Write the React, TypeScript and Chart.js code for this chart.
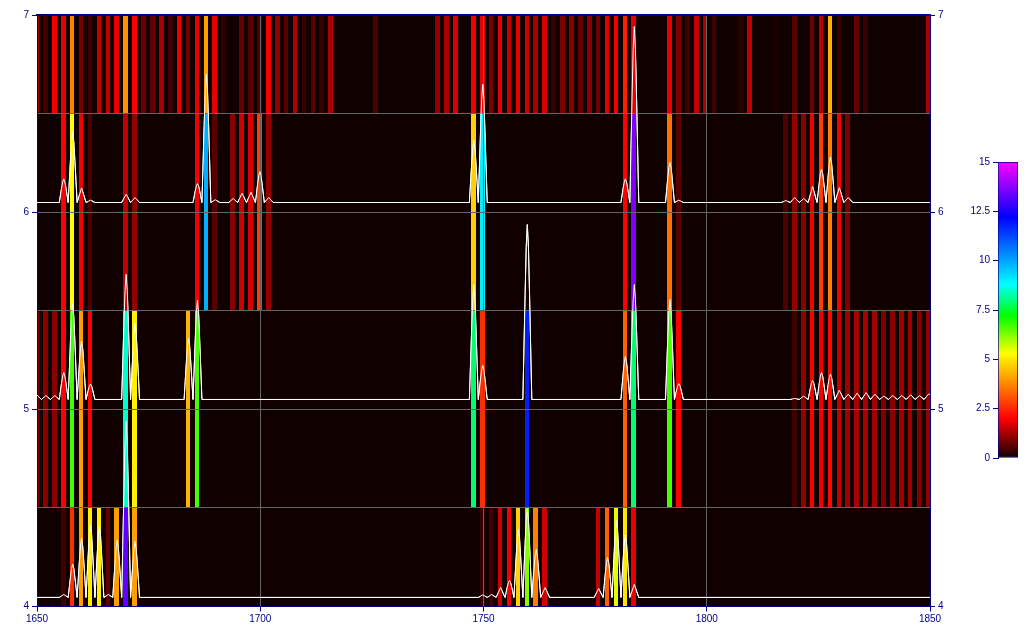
import React, { useEffect, useRef } from "react";
import { Chart, registerables } from "chart.js";

Chart.register(...registerables);

// Heat strips: column position and colour value per strip (empty columns are simply absent)
const row7X = [1650,1652,1654,1656,1658,1660,1662,1664,1666,1668,1670,1672,1674,1676,1678,1680,1682,1684,1686,1688,1690,1692,1696,1698,1700,1702,1704,1706,1708,1710,1712,1714,1716,1726,1740,1742,1744,1748,1750,1752,1754,1756,1758,1760,1762,1764,1766,1768,1770,1772,1774,1776,1778,1780,1782,1784,1792,1794,1796,1798,1800,1802,1808,1810,1816,1820,1824,1826,1828,1830,1834,1836,1850];
const row7Z = [1.3,0.4,1.9,1.8,3.7,0.9,0.4,1.5,1.5,1.8,3.9,2.0,0.8,0.7,1.3,0.4,1.8,0.8,1.8,4.1,1.8,0.25,0.7,0.6,0.5,1.9,1.1,0.6,1.3,0.3,0.6,0.3,1.3,0.5,1.1,1.3,1.7,1.9,1.8,0.9,1.8,1.5,1.8,1.6,1.3,1.7,0.3,0.9,1.0,0.7,1.0,0.8,1.8,1.9,2.4,1.8,1.8,0.9,0.4,1.5,1.3,0.4,0.2,1.5,0.1,0.6,0.8,1.4,4.3,0.3,0.7,0.3,1.3];

const row6X = [1656,1658,1660,1662,1670,1672,1686,1688,1690,1694,1696,1698,1700,1702,1748,1750,1782,1784,1792,1794,1818,1820,1822,1824,1826,1828,1830,1832];
const row6Z = [2.0,5.3,1.9,0.5,1.5,1.1,1.9,9.85,0.6,1.0,1.6,1.7,2.8,1.1,4.7,9.0,2.0,13.6,3.45,0.6,0.5,1.1,1.0,1.9,2.8,3.65,1.9,0.9];

const row5X = [1650,1652,1654,1656,1658,1660,1662,1670,1672,1684,1686,1748,1750,1760,1782,1784,1792,1794,1820,1822,1824,1826,1828,1830,1832,1834,1836,1838,1840,1842,1844,1846,1848,1850];
const row5Z = [0.9,1.0,1.0,2.0,6.7,4.05,2.0,8.5,5.1,4.3,6.7,7.9,2.6,11.8,3.25,7.9,6.7,2.0,0.4,1.1,2.0,1.9,2.1,1.5,1.2,1.3,1.3,1.2,0.9,1.0,1.2,1.2,1.0,1.1];

const row4X = [1656,1658,1660,1662,1664,1666,1668,1670,1672,1750,1752,1754,1756,1758,1760,1762,1764,1776,1778,1780,1782,1784];
const row4Z = [0.4,2.6,4.05,5.1,5.1,0.7,4.05,13.25,4.05,0.3,0.4,1.6,1.9,4.7,6.25,3.65,1.6,1.5,3.25,5.5,5.0,1.8];

// Strip extents on the y axis
const row7Span = [6.5, 7];
const row6Span = [5.5, 6.5];
const row5Span = [4.5, 5.5];
const row4Span = [4, 4.5];

// White traces: [x, height above the row's base level]
const line6Points = [
  [1650,0],[1655,0],[1655.25,.036],[1655.5,.072],[1655.75,.104],[1656,.12],[1656.25,.104],[1656.5,.072],[1656.75,.036],[1657,0],
  [1657.25,.107],[1657.5,.213],[1657.75,.309],[1658,.355],[1658.25,.309],[1658.5,.213],[1658.75,.107],[1659,0],[1660,.074],[1661,0],[1662,.012],[1663,0],
  [1669,0],[1670,.042],[1671,0],[1672,.025],[1673,0],
  [1685,0],[1685.25,.029],[1685.5,.058],[1685.75,.084],[1686,.096],[1686.25,.084],[1686.5,.058],[1686.75,.029],[1687,0],
  [1687.25,.195],[1687.5,.39],[1687.75,.566],[1688,.65],[1688.25,.566],[1688.5,.39],[1688.75,.195],[1689,0],[1690,.014],[1691,0],
  [1693,0],[1694,.02],[1695,0],[1696,.047],[1697,0],[1698,.052],[1699,0],[1699.25,.047],[1699.5,.094],[1699.75,.137],[1700,.157],[1700.25,.137],[1700.5,.094],[1700.75,.047],[1701,0],[1702,.025],[1703,0],
  [1747,0],[1747.25,.095],[1747.5,.19],[1747.75,.275],[1748,.316],[1748.25,.275],[1748.5,.19],[1748.75,.095],[1749,0],
  [1749.25,.18],[1749.5,.36],[1749.75,.522],[1750,.6],[1750.25,.522],[1750.5,.36],[1750.75,.18],[1751,0],
  [1781,0],[1781.25,.036],[1781.5,.072],[1781.75,.104],[1782,.12],[1782.25,.104],[1782.5,.072],[1782.75,.036],[1783,0],
  [1783.25,.268],[1783.5,.536],[1783.75,.777],[1784,.893],[1784.25,.777],[1784.5,.536],[1784.75,.268],[1785,0],
  [1791,0],[1791.25,.061],[1791.5,.122],[1791.75,.177],[1792,.203],[1792.25,.177],[1792.5,.122],[1792.75,.061],[1793,0],[1794,.012],[1795,0],
  [1817,0],[1818,.01],[1819,0],[1820,.025],[1821,0],[1822,.02],[1823,0],[1824,.081],[1825,0],
  [1825.25,.051],[1825.5,.101],[1825.75,.147],[1826,.169],[1826.25,.147],[1826.5,.101],[1826.75,.051],[1827,0],
  [1827.25,.069],[1827.5,.138],[1827.75,.2],[1828,.23],[1828.25,.2],[1828.5,.138],[1828.75,.069],[1829,0],[1830,.076],[1831,0],[1832,.025],[1833,0],[1852,0],
];

const line5Points = [
  [1650,.022],[1651,0],[1652,.02],[1653,0],[1654,.02],[1655,0],
  [1655.25,.041],[1655.5,.082],[1655.75,.119],[1656,.137],[1656.25,.119],[1656.5,.082],[1656.75,.041],[1657,0],
  [1657.25,.146],[1657.5,.292],[1657.75,.423],[1658,.486],[1658.25,.423],[1658.5,.292],[1658.75,.146],[1659,0],
  [1659.25,.089],[1659.5,.178],[1659.75,.258],[1660,.296],[1660.25,.258],[1660.5,.178],[1660.75,.089],[1661,0],
  [1661.25,.023],[1661.5,.047],[1661.75,.068],[1662,.078],[1662.25,.068],[1662.5,.047],[1662.75,.023],[1663,0],
  [1669,0],[1669.25,.19],[1669.5,.381],[1669.75,.552],[1670,.635],[1670.25,.552],[1670.5,.381],[1670.75,.19],[1671,0],
  [1671.25,.116],[1671.5,.231],[1671.75,.335],[1672,.385],[1672.25,.335],[1672.5,.231],[1672.75,.116],[1673,0],
  [1683,0],[1683.25,.093],[1683.5,.186],[1683.75,.27],[1684,.31],[1684.25,.27],[1684.5,.186],[1684.75,.093],[1685,0],
  [1685.25,.151],[1685.5,.302],[1685.75,.438],[1686,.503],[1686.25,.438],[1686.5,.302],[1686.75,.151],[1687,0],
  [1747,0],[1747.25,.175],[1747.5,.35],[1747.75,.507],[1748,.583],[1748.25,.507],[1748.5,.35],[1748.75,.175],[1749,0],
  [1749.25,.052],[1749.5,.103],[1749.75,.15],[1750,.172],[1750.25,.15],[1750.5,.103],[1750.75,.052],[1751,0],
  [1759,0],[1759.25,.266],[1759.5,.532],[1759.75,.772],[1760,.887],[1760.25,.772],[1760.5,.532],[1760.75,.266],[1761,0],
  [1781,0],[1781.25,.065],[1781.5,.131],[1781.75,.19],[1782,.218],[1782.25,.19],[1782.5,.131],[1782.75,.065],[1783,0],
  [1783.25,.175],[1783.5,.35],[1783.75,.507],[1784,.583],[1784.25,.507],[1784.5,.35],[1784.75,.175],[1785,0],
  [1791,0],[1791.25,.152],[1791.5,.304],[1791.75,.441],[1792,.507],[1792.25,.441],[1792.5,.304],[1792.75,.152],[1793,0],
  [1793.25,.024],[1793.5,.048],[1793.75,.07],[1794,.08],[1794.25,.07],[1794.5,.048],[1794.75,.024],[1795,0],
  [1819,0],[1820,.005],[1821,0],[1822,.017],[1823,0],
  [1823.25,.029],[1823.5,.058],[1823.75,.084],[1824,.096],[1824.25,.084],[1824.5,.058],[1824.75,.029],[1825,0],
  [1825.25,.041],[1825.5,.082],[1825.75,.119],[1826,.137],[1826.25,.119],[1826.5,.082],[1826.75,.041],[1827,0],
  [1827.25,.038],[1827.5,.077],[1827.75,.111],[1828,.128],[1828.25,.111],[1828.5,.077],[1828.75,.038],[1829,0],
  [1830,.047],[1831,0],[1832,.027],[1833,0],[1834,.032],[1835,0],[1836,.035],[1837,0],[1838,.027],[1839,0],[1840,.017],[1841,0],[1842,.02],[1843,0],[1844,.02],[1845,0],[1846,.024],[1847,0],[1848,.02],[1849,0],[1850,.027],[1852,.027],
];

const line4Points = [
  [1650,0],[1655,0],[1656,.015],[1657,0],
  [1657.25,.051],[1657.5,.101],[1657.75,.147],[1658,.169],[1658.25,.147],[1658.5,.101],[1658.75,.051],[1659,0],
  [1659.25,.09],[1659.5,.18],[1659.75,.261],[1660,.30],[1660.25,.261],[1660.5,.18],[1660.75,.09],[1661,0],
  [1661.25,.11],[1661.5,.219],[1661.75,.318],[1662,.365],[1662.25,.318],[1662.5,.219],[1662.75,.11],[1663,0],
  [1663.25,.108],[1663.5,.216],[1663.75,.313],[1664,.36],[1664.25,.313],[1664.5,.216],[1664.75,.108],[1665,0],[1666,.015],[1667,0],
  [1667.25,.087],[1667.5,.174],[1667.75,.252],[1668,.29],[1668.25,.252],[1668.5,.174],[1668.75,.087],[1669,0],
  [1669.25,.268],[1669.5,.536],[1669.75,.777],[1670,.893],[1670.25,.777],[1670.5,.536],[1670.75,.268],[1671,0],
  [1671.25,.086],[1671.5,.171],[1671.75,.248],[1672,.285],[1672.25,.248],[1672.5,.171],[1672.75,.086],[1673,0],
  [1749,0],[1750,.013],[1751,0],[1752,.015],[1753,0],[1754,.05],[1755,0],
  [1755.25,.026],[1755.5,.052],[1755.75,.075],[1756,.086],[1756.25,.075],[1756.5,.052],[1756.75,.026],[1757,0],
  [1757.25,.104],[1757.5,.207],[1757.75,.3],[1758,.345],[1758.25,.3],[1758.5,.207],[1758.75,.104],[1759,0],
  [1759.25,.135],[1759.5,.27],[1759.75,.392],[1760,.45],[1760.25,.392],[1760.5,.27],[1760.75,.135],[1761,0],
  [1761.25,.073],[1761.5,.146],[1761.75,.211],[1762,.243],[1762.25,.211],[1762.5,.146],[1762.75,.073],[1763,0],[1764,.05],[1765,0],
  [1775,0],[1776,.045],[1777,0],
  [1777.25,.061],[1777.5,.122],[1777.75,.177],[1778,.203],[1778.25,.177],[1778.5,.122],[1778.75,.061],[1779,0],
  [1779.25,.117],[1779.5,.234],[1779.75,.339],[1780,.39],[1780.25,.339],[1780.5,.234],[1780.75,.117],[1781,0],
  [1781.25,.095],[1781.5,.19],[1781.75,.275],[1782,.316],[1782.25,.275],[1782.5,.19],[1782.75,.095],[1783,0],[1784,.066],[1785,0],[1852,0],
];

const lineBase6 = 6.049;
const lineBase5 = 5.05;
const lineBase4 = 4.046;

// The picture's columns sit slightly closer together than the nominal 2-unit labels above,
// and the strips start half a pixel left of the trace positions.
const columnPitch = 0.99832;
const stripShift = -0.112;
const xOf = (x: number) => 1650 + (x - 1650) * columnPitch;

// Colour scale
const colorStops: [number, number, number, number][] = [
  [0, 16, 0, 0],
  [2, 255, 0, 0],
  [5.3, 255, 255, 0],
  [7.2, 0, 255, 0],
  [8.8, 0, 255, 255],
  [12.2, 0, 0, 255],
  [15, 255, 0, 255],
];

const NAVY = "#00008b";
const GRID = "#646464";
const BG = "#100000";
const FONT = { family: "'Liberation Sans', sans-serif", size: 10 };

function colorOf(z: number): string {
  for (let i = 1; i < colorStops.length; i++) {
    const a = colorStops[i - 1];
    const b = colorStops[i];
    if (z <= b[0]) {
      const t = (z - a[0]) / (b[0] - a[0]);
      const c = [1, 2, 3].map((k) => Math.round(a[k] + (b[k] - a[k]) * t));
      return `rgb(${c[0]},${c[1]},${c[2]})`;
    }
  }
  return "rgb(255,0,255)";
}

function heat(xs: number[], zs: number[], span: number[]) {
  return {
    type: "bar" as const,
    data: xs.map((x) => ({ x: xOf(x) + stripShift, y: span })),
    backgroundColor: zs.map(colorOf),
    borderWidth: 0,
    inflateAmount: 0,
    barPercentage: 0.52,
    categoryPercentage: 1,
    grouped: false,
    xAxisID: "x",
    yAxisID: "y",
  };
}

function trace(points: number[][], base: number) {
  return {
    type: "line" as const,
    data: points.map(([x, h]) => ({ x: xOf(x), y: base + h })),
    borderColor: "#ffffff",
    borderWidth: 1,
    pointRadius: 0,
    tension: 0,
    fill: false,
    xAxisID: "x",
    yAxisID: "y",
  };
}

const plotPlugin = {
  id: "plotPlugin",
  afterDatasetsUpdate(chart: any) {
    chart.data.datasets.forEach((d: any, i: number) => {
      if (d.type !== "bar") return;
      for (const el of chart.getDatasetMeta(i).data) {
        const l = Math.round(el.x - el.width / 2);
        const r = Math.round(el.x + el.width / 2);
        el.x = (l + r) / 2;
        el.width = r - l;
      }
    });
  },
  beforeDatasetsDraw(chart: any) {
    const { ctx, chartArea: a } = chart;
    ctx.save();
    ctx.fillStyle = BG;
    ctx.fillRect(a.left, a.top, a.right - a.left, a.bottom - a.top);
    ctx.restore();
  },
  afterDraw(chart: any) {
    const { ctx, chartArea: a } = chart;
    ctx.save();
    ctx.beginPath();
    ctx.rect(a.left, a.top, a.right - a.left, a.bottom - a.top);
    ctx.clip();
    chart.data.datasets.forEach((d: any, i: number) => {
      if (d.type === "line") chart.getDatasetMeta(i).controller.draw();
    });
    ctx.restore();
  },
};

const isEdge = (ctx: any) => ctx.tick && (ctx.tick.value === ctx.scale.min || ctx.tick.value === ctx.scale.max);
const yLabel = (v: any) => (Number.isInteger(v) ? String(v) : "");
const yTickColor = (ctx: any) => (ctx.tick && Number.isInteger(ctx.tick.value) ? NAVY : "transparent");

export default function App() {
  const mainRef = useRef<HTMLCanvasElement>(null);
  const barRef = useRef<HTMLCanvasElement>(null);

  useEffect(() => {
    const main = new Chart(mainRef.current as any, {
      type: "bar",
      data: {
        datasets: [
          heat(row7X, row7Z, row7Span),
          heat(row6X, row6Z, row6Span),
          heat(row5X, row5Z, row5Span),
          heat(row4X, row4Z, row4Span),
          trace(line6Points, lineBase6),
          trace(line5Points, lineBase5),
          trace(line4Points, lineBase4),
        ] as any,
      },
      options: {
        animation: false,
        responsive: false,
        devicePixelRatio: 1,
        layout: { padding: 0 },
        plugins: { legend: { display: false }, tooltip: { enabled: false } },
        scales: {
          x: {
            type: "linear",
            position: "bottom",
            min: 1650,
            max: 1850,
            offset: false,
            afterFit: (s: any) => { s.height = 33.5; },
            ticks: { stepSize: 50, color: NAVY, font: FONT, maxRotation: 0, autoSkip: false, padding: 2, callback: (v: any) => String(v) },
            grid: {
              offset: false, z: 1, lineWidth: 1, tickLength: 5, tickColor: NAVY,
              color: (c: any) => (isEdge(c) ? "transparent" : GRID),
            },
            border: { color: NAVY, width: 1, z: 2 },
          },
          xTop: {
            type: "linear",
            position: "top",
            min: 1650,
            max: 1850,
            afterFit: (s: any) => { s.height = 15; },
            ticks: { display: false },
            grid: { drawOnChartArea: false, drawTicks: false },
            border: { color: NAVY, width: 2, z: 2 },
          },
          y: {
            type: "linear",
            position: "left",
            min: 4,
            max: 7,
            afterFit: (s: any) => { s.width = 37; },
            ticks: { stepSize: 0.5, color: NAVY, font: FONT, autoSkip: false, callback: yLabel, padding: 3 },
            grid: {
              z: 1, lineWidth: 1, tickLength: 5, tickColor: yTickColor,
              color: (c: any) => (isEdge(c) ? "transparent" : GRID),
            },
            border: { color: NAVY, width: 1, z: 2 },
          },
          yRight: {
            type: "linear",
            position: "right",
            min: 4,
            max: 7,
            afterFit: (s: any) => { s.width = 94; },
            ticks: { stepSize: 0.5, color: NAVY, font: FONT, autoSkip: false, callback: yLabel, padding: 3 },
            grid: { drawOnChartArea: false, tickLength: 5, tickColor: yTickColor },
            border: { color: NAVY, width: 1, z: 2 },
          },
        },
      } as any,
      plugins: [plotPlugin],
    });

    const bar = new Chart(barRef.current as any, {
      type: "bar",
      data: {
        labels: [""],
        datasets: [
          {
            data: [[0, 15]],
            backgroundColor: (c: any) => {
              const { ctx, chartArea: a } = c.chart;
              if (!a) return "#000";
              const g = ctx.createLinearGradient(0, a.bottom, 0, a.top);
              colorStops.forEach((s) => g.addColorStop(s[0] / 15, `rgb(${s[1]},${s[2]},${s[3]})`));
              return g;
            },
            borderColor: NAVY,
            borderWidth: 1,
            borderSkipped: false,
            barPercentage: 1,
            categoryPercentage: 1,
          },
        ] as any,
      },
      options: {
        animation: false,
        responsive: false,
        devicePixelRatio: 1,
        layout: { padding: { top: 162, bottom: 182, right: 6 } },
        plugins: { legend: { display: false }, tooltip: { enabled: false } },
        scales: {
          x: { display: false },
          y: {
            min: 0,
            max: 15,
            afterFit: (s: any) => { s.width = 48; },
            ticks: { stepSize: 2.5, color: NAVY, font: FONT, callback: (v: any) => String(v), padding: 3 },
            grid: { drawOnChartArea: false, tickLength: 5, tickColor: NAVY },
            border: { color: NAVY, width: 1 },
          },
        },
      } as any,
    });

    return () => {
      main.destroy();
      bar.destroy();
    };
  }, []);

  return (
    <div style={{ position: "fixed", left: 0, top: 0, width: 1024, height: 640, background: "#fff" }}>
      <canvas ref={mainRef} width={1024} height={640} style={{ position: "absolute", left: 0, top: 0 }} />
      <canvas ref={barRef} width={74} height={640} style={{ position: "absolute", left: 950, top: 0 }} />
    </div>
  );
}
